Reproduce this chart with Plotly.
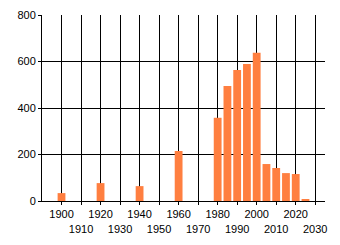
import plotly.graph_objects as go

years = [1900, 1920, 1940, 1960, 1980, 1985, 1990, 1995, 2000, 2005, 2010, 2015, 2020, 2025]
counts = [34, 77, 64, 215, 358, 495, 563, 589, 638, 159, 142, 120, 116, 8]
x_ticks = list(range(1900, 2031, 10))
x_labels = [str(v) if i % 2 == 0 else "<br>" + str(v) for i, v in enumerate(x_ticks)]
y_ticks = [0, 200, 400, 600, 800]

fig = go.Figure(go.Bar(x=years, y=counts, width=4, marker=dict(color="rgb(255,127,64)", line=dict(width=0))))

fig.update_layout(
    width=340, height=245,
    margin=dict(l=42, r=15, t=15, b=44),
    paper_bgcolor="white", plot_bgcolor="white",
    showlegend=False,
    font=dict(family="Liberation Sans, Arial, sans-serif", size=11, color="black"),
)
fig.update_xaxes(range=[1890, 2035], tickvals=x_ticks, ticktext=x_labels, tickangle=0,
                 automargin=False,
                 showgrid=True, gridcolor="black", gridwidth=1,
                 ticks="outside", ticklen=3, tickcolor="black",
                 showline=True, linecolor="black", linewidth=1, zeroline=False)
fig.update_yaxes(range=[0, 800], tickvals=y_ticks, automargin=False,
                 showgrid=True, gridcolor="black", gridwidth=1,
                 ticks="outside", ticklen=3, tickcolor="black",
                 showline=True, linecolor="black", linewidth=1, zeroline=False)

fig.write_html("out.html")
